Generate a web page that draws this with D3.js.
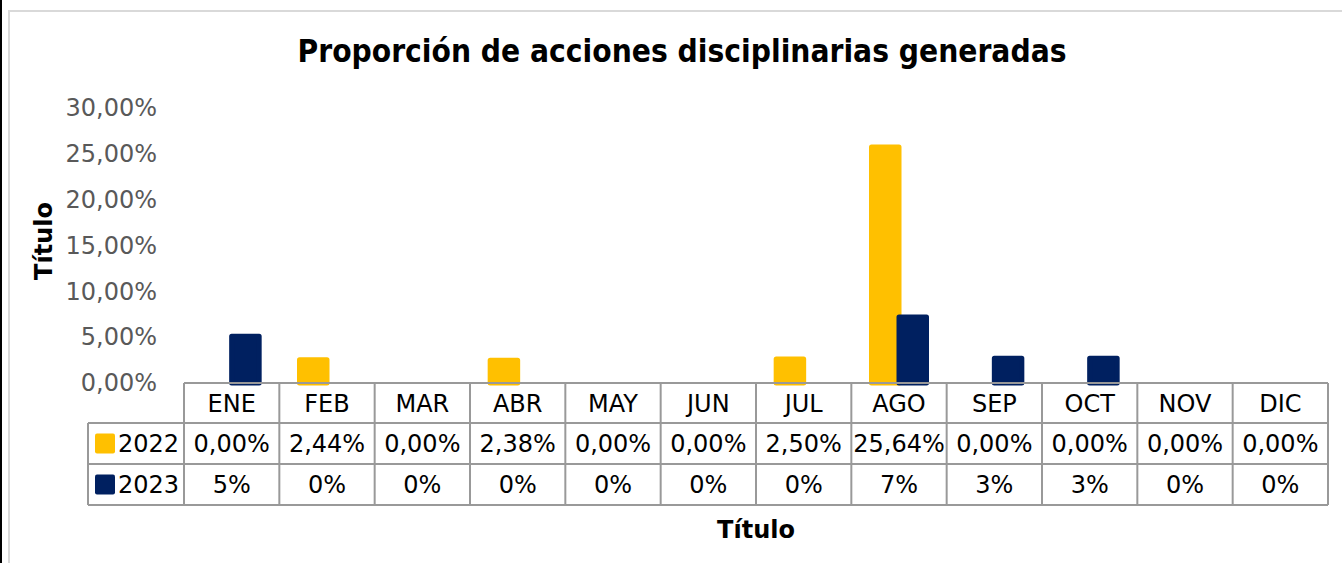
<!DOCTYPE html>
<html>
<head>
<meta charset="utf-8">
<script src="https://cdn.jsdelivr.net/npm/d3@7"></script>
<style>
  body { margin: 0; background: #fff; }
  svg { font-family: "DejaVu Sans", Verdana, sans-serif; }
</style>
</head>
<body>
<svg id="chart" width="1342" height="563"></svg>
<script>
var months = ["ENE", "FEB", "MAR", "ABR", "MAY", "JUN", "JUL", "AGO", "SEP", "OCT", "NOV", "DIC"];
var series = ["2022", "2023"];
var values2022 = [0, 2.44, 0, 2.38, 0, 0, 2.50, 25.64, 0, 0, 0, 0];
var values2023 = [5.0, 0, 0, 0, 0, 0, 0, 7.1, 2.6, 2.6, 0, 0];
var labels2022 = ["0,00%", "2,44%", "0,00%", "2,38%", "0,00%", "0,00%", "2,50%", "25,64%", "0,00%", "0,00%", "0,00%", "0,00%"];
var labels2023 = ["5%", "0%", "0%", "0%", "0%", "0%", "0%", "7%", "3%", "3%", "0%", "0%"];
var yTicks = [0, 5, 10, 15, 20, 25, 30];
var colors = ["#FFC000", "#002060"];

var svg = d3.select("#chart");

// chart frame
svg.append("rect").attr("x", 0).attr("y", 0).attr("width", 2).attr("height", 563).attr("fill", "#000");
svg.append("rect")
    .attr("x", 9).attr("y", 11).attr("width", 1345).attr("height", 570)
    .attr("fill", "#fff").attr("stroke", "#d9d9d9").attr("stroke-width", 2);

svg.append("text")
    .attr("x", 682).attr("y", 62)
    .attr("text-anchor", "middle")
    .attr("font-weight", "bold").attr("font-size", 32)
    .attr("textLength", 769).attr("lengthAdjust", "spacingAndGlyphs")
    .text("Proporción de acciones disciplinarias generadas");

var x0 = d3.scaleBand().domain(months).range([184, 1328]);
var x1 = d3.scalePoint().domain(series).range([-13.75, 13.75]);
var y = d3.scaleLinear().domain([0, 30]).range([383, 108]);

// y axis labels
var yAxis = d3.axisLeft(y)
    .tickValues(yTicks)
    .tickSize(0)
    .tickPadding(0)
    .tickFormat(d => d3.format(".2f")(d).replace(".", ",") + "%");
var gy = svg.append("g").attr("transform", "translate(157,0)").call(yAxis);
gy.select(".domain").remove();
gy.selectAll("text")
    .attr("font-size", 24).attr("fill", "#595959")
    .attr("font-family", "DejaVu Sans, sans-serif");

// bars
var bars = [];
months.forEach(function(m, i) {
    bars.push({m: m, s: "2022", v: values2022[i], c: colors[0]});
    bars.push({m: m, s: "2023", v: values2023[i], c: colors[1]});
});
svg.append("g").selectAll("rect")
    .data(bars.filter(d => d.v > 0))
    .join("rect")
    .attr("x", d => x0(d.m) + x0.bandwidth() / 2 + x1(d.s) - 13.75)
    .attr("width", 27.5)
    .attr("y", d => y(d.v) - 1)
    .attr("height", d => y(0) - y(d.v) + 1)
    .attr("fill", d => d.c)
    .attr("stroke", d => d.c)
    .attr("stroke-width", 5)
    .attr("stroke-linejoin", "round");

// data table
var rowY = [383, 423, 464, 505];
var legendX = 88;
var grid = svg.append("g").attr("stroke", "#999").attr("stroke-width", 2);
grid.append("line").attr("x1", 184).attr("x2", 1328).attr("y1", rowY[0]).attr("y2", rowY[0]);
rowY.slice(1).forEach(function(yy) {
    grid.append("line").attr("x1", legendX).attr("x2", 1328).attr("y1", yy).attr("y2", yy);
});
grid.append("line").attr("x1", legendX).attr("x2", legendX).attr("y1", rowY[1]).attr("y2", rowY[3]);
months.forEach(function(m) {
    grid.append("line").attr("x1", x0(m)).attr("x2", x0(m)).attr("y1", rowY[0]).attr("y2", rowY[3]);
});
grid.append("line").attr("x1", 1328).attr("x2", 1328).attr("y1", rowY[0]).attr("y2", rowY[3]);

var table = svg.append("g").attr("font-size", 24).attr("fill", "#000").attr("text-anchor", "middle");
table.selectAll("text.head")
    .data(months).join("text").attr("class", "head")
    .attr("x", d => x0(d) + x0.bandwidth() / 2)
    .attr("y", (rowY[0] + rowY[1]) / 2).attr("dy", "0.36em")
    .text(d => d);
[labels2022, labels2023].forEach(function(labels, r) {
    table.selectAll("text.r" + r)
        .data(labels).join("text").attr("class", "r" + r)
        .attr("x", (d, i) => x0(months[i]) + x0.bandwidth() / 2)
        .attr("y", (rowY[r + 1] + rowY[r + 2]) / 2).attr("dy", "0.36em")
        .text(d => d);
});

// legend keys
series.forEach(function(s, r) {
    var cy = (rowY[r + 1] + rowY[r + 2]) / 2;
    svg.append("rect")
        .attr("x", 95).attr("y", cy - 10).attr("width", 20).attr("height", 20)
        .attr("rx", 2).attr("fill", colors[r]);
    svg.append("text")
        .attr("x", 118).attr("y", cy).attr("dy", "0.36em")
        .attr("font-size", 24)
        .text(s);
});

// axis titles
svg.append("text")
    .attr("x", 756).attr("y", 538)
    .attr("text-anchor", "middle").attr("font-weight", "bold").attr("font-size", 24)
    .text("Título");
svg.append("text")
    .attr("transform", "translate(52,241) rotate(-90)")
    .attr("text-anchor", "middle").attr("font-weight", "bold").attr("font-size", 24)
    .text("Título");
</script>
</body>
</html>
